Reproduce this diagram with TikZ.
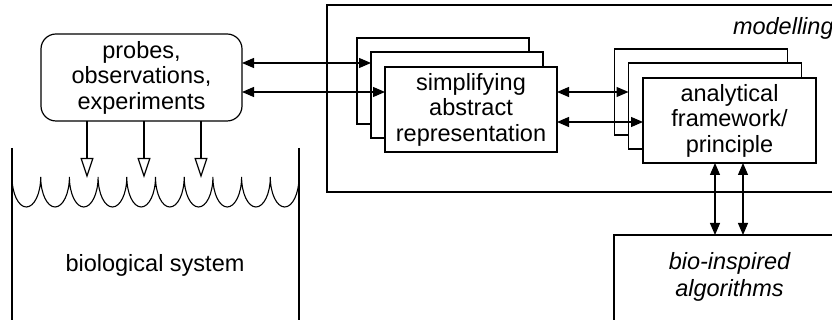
\documentclass[tikz,border=0pt]{standalone}
\usepackage{fontspec}
\setmainfont{Liberation Sans}
\usetikzlibrary{arrows.meta}
\begin{document}
\begin{tikzpicture}[x=1pt,y=1pt,
  every node/.style={inner sep=0pt,outer sep=0pt},
  txt/.style={font=\fontsize{23.5}{25.5}\selectfont,align=center},
  card/.style={draw,line width=1.2pt,fill=white,minimum width=172pt,minimum height=86pt},
  frame/.style={draw,line width=1.2pt},
  dbl/.style={line width=1.2pt,{Triangle[length=12pt,width=10pt]}-{Triangle[length=12pt,width=10pt]}},
  probe/.style={line width=1.2pt,-{Triangle[open,length=20pt,width=13pt]}},
  wall/.style={line width=2.2pt}]
\useasboundingbox (0,0) rectangle (832,320);
% modelling frame
\node[frame,minimum width=518pt,minimum height=187pt] (model) at (586,221.5) {};
\node[txt,font=\fontsize{23.5}{25.5}\selectfont\itshape,anchor=base west] (mlabel) at (733,285) {modelling};
% bio-inspired frame
\node[frame,minimum width=231pt,minimum height=95pt] (bio) at (729.5,37.5) {};
\node[txt,font=\fontsize{23.5}{27}\selectfont\itshape] (biotext) at (729.5,43) {bio-inspired\\algorithms};
% probes
\node[txt,draw,line width=1.2pt,rounded corners=15pt,minimum width=201pt,minimum height=87pt] (probes) at (141.5,242.5) {probes,\\observations,\\experiments};
% stack 1
\node[card] (s1b) at (443,239) {};
\node[card] (s1m) at (457,225) {};
\node[card,txt,minimum height=85pt] (s1f) at (471,210.5) {simplifying\\abstract\\representation};
% stack 2
\node[card,minimum width=173pt] (s2b) at (701,228) {};
\node[card,minimum width=173pt] (s2m) at (715,214) {};
\node[card,txt,minimum width=173pt,minimum height=85pt] (s2f) at (729.5,199.5) {analytical\\framework/\\principle};
% connector levels
\coordinate (yA) at (0,257);
\coordinate (yB) at (0,228);
\coordinate (yC) at (0,198);
\coordinate (xA) at (715,0);
\coordinate (xB) at (743,0);
\draw[dbl] (probes.east |- yA) -- (s1m.west |- yA);
\draw[dbl] (probes.east |- yB) -- (s1f.west |- yB);
\draw[dbl] (s1f.east |- yB) -- (s2m.west |- yB);
\draw[dbl] (s1f.east |- yC) -- (s2f.west |- yC);
\draw[dbl] (s2f.south -| xA) -- (bio.north -| xA);
\draw[dbl] (s2f.south -| xB) -- (bio.north -| xB);
% probes into the biological system
\coordinate (t1) at (87,142);
\coordinate (t2) at (144,142);
\coordinate (t3) at (201,142);
\draw[probe] (probes.south -| t1) -- (t1);
\draw[probe] (probes.south -| t2) -- (t2);
\draw[probe] (probes.south -| t3) -- (t3);
% vessel
\draw[wall] (12,172) -- (12,-5);
\draw[wall] (299,172) -- (299,-5);
\draw[line width=1.1pt] (12,143) foreach \i in {0,...,9} {arc[start angle=180,end angle=360,x radius=14.35,y radius=30]};
\node[txt] (biosys) at (155,55) {biological system};
\end{tikzpicture}
\end{document}
